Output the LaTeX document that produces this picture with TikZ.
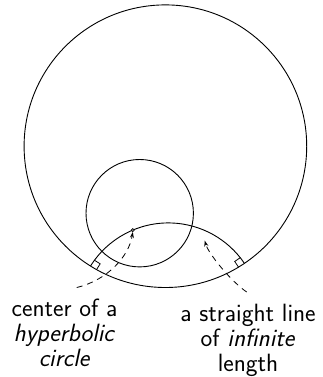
\documentclass[tikz,border=0pt]{standalone}
\usepackage{fontspec}
\usetikzlibrary{calc,arrows.meta}
\begin{document}
\begin{tikzpicture}[x=1pt,y=-1pt,
  curve/.style={line width=0.9pt},
  pointer/.style={line width=0.8pt, dash pattern=on 6pt off 5pt, -{Stealth[length=6pt,width=4pt]}},
  label/.style={font=\sffamily\fontsize{25}{24.7}\selectfont, align=center, inner sep=0pt, anchor=base}]
\useasboundingbox (0,0) rectangle (322,377);
% main disc
\coordinate (O) at (165.4,146.2);
\draw[curve] (O) circle[radius=141.3];
% hyperbolic circle
\coordinate (H) at (139.7,213.2);
\draw[curve] (H) circle[radius=53.7];
% geodesic
\coordinate (C) at ($(O)+(89:168.5)$);
\coordinate (A) at ($(O)+(122:141.3)$);
\coordinate (B) at ($(O)+(56:141.3)$);
\draw[curve] ($(C)+(212:91.76)$) arc[start angle=212, end angle=326, radius=91.76];
% right angle marks
\draw[line width=0.8pt] ($(A)+(32:7)$) -- ($(A)+(32:7)+(302:7)$) -- ($(A)+(302:7)$);
\draw[line width=0.8pt] ($(B)+(146:7)$) -- ($(B)+(146:7)+(236:7)$) -- ($(B)+(236:7)$);
% centre point
\coordinate (D) at ($(C)+(247.2:91.76)$);
\node[circle, draw, fill=gray, inner sep=0pt, minimum size=3.2pt, line width=0.5pt] (dot) at (D) {};
% labels
\node[label] (l1) at (64.5,366.1) {center of a\\ \textit{hyperbolic}\\ \textit{circle}};
\node[label] (l2) at (248,371.1) {a straight line\\ of \textit{infinite}\\ length};
% pointers
\coordinate (s1) at (76.7,287.5);
\coordinate (s2) at (246.7,292);
\coordinate (e2) at (204.7,240.5);
\draw[pointer] (s1) .. controls (108,280) and (129,256) .. (dot.south);
\draw[pointer] (s2) .. controls (231.7,282) and (208.5,254) .. (e2);
\end{tikzpicture}
\end{document}
